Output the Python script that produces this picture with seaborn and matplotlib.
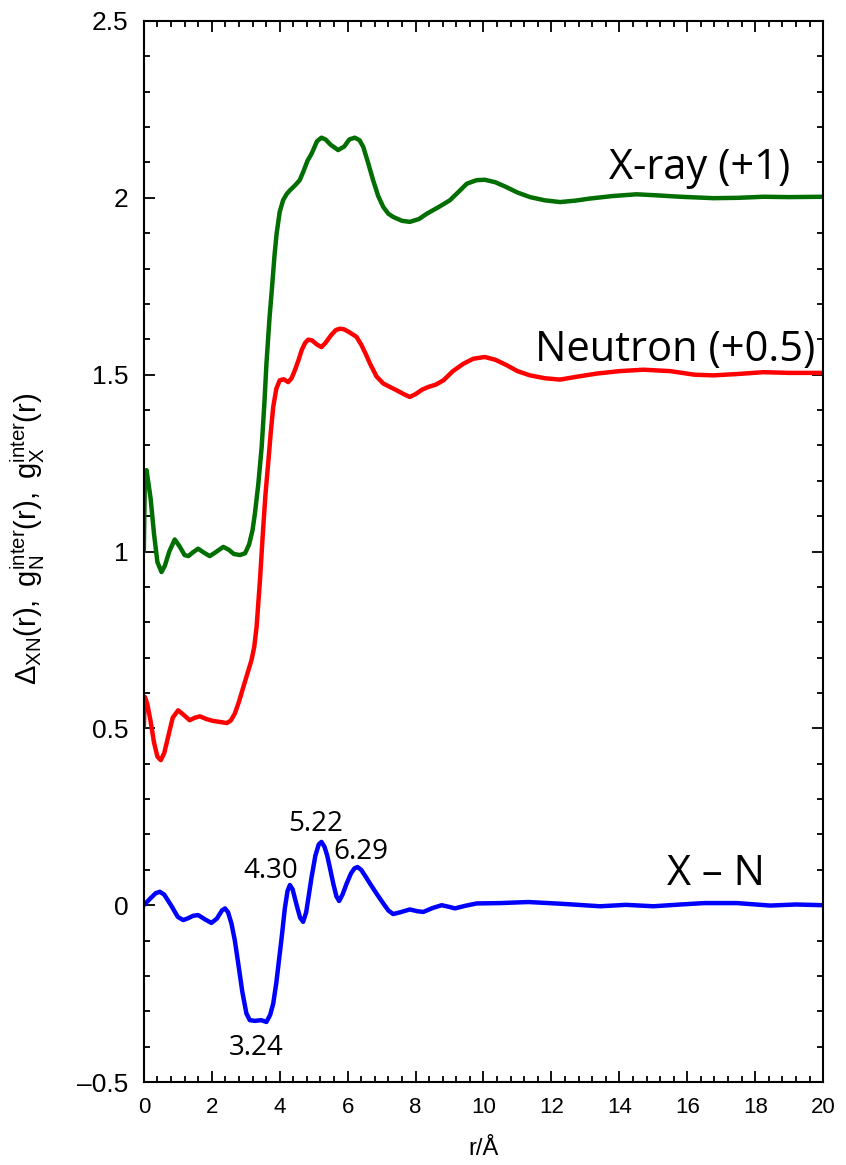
import numpy as np
import pandas as pd
import matplotlib
matplotlib.use("Agg")
import matplotlib.pyplot as plt
from matplotlib.ticker import MultipleLocator, FuncFormatter
import seaborn as sns

# ---- data ----
r_xray = [0, 0.03, 0.08, 0.2, 0.3, 0.4, 0.52, 0.62, 0.75, 0.91, 1.05, 1.2, 1.31, 1.45, 1.6, 1.75,
          1.94, 2.1, 2.34, 2.5, 2.65, 2.83, 2.98, 3.1, 3.2, 3.27, 3.37, 3.47, 3.55, 3.61, 3.7, 3.76,
          3.85, 3.91, 4.0, 4.1, 4.2, 4.3, 4.45, 4.59, 4.7, 4.82, 4.94, 5.1, 5.23, 5.35, 5.5, 5.72,
          5.9, 6.05, 6.21, 6.35, 6.46, 6.6, 6.75, 6.9, 7.05, 7.2, 7.34, 7.6, 7.83, 8.1, 8.33, 8.7,
          9.01, 9.3, 9.51, 9.8, 10.04, 10.35, 10.68, 11.0, 11.37, 11.8, 12.25, 12.7, 13.14, 13.8,
          14.51, 15.1, 15.79, 16.77, 17.5, 18.24, 19.0, 20]
g_xray = [1.0, 1.2, 1.23, 1.15, 1.05, 0.97, 0.942, 0.96, 1.0, 1.034, 1.015, 0.99, 0.987, 0.998,
          1.008, 0.998, 0.987, 0.997, 1.013, 1.005, 0.993, 0.99, 0.995, 1.02, 1.06, 1.107, 1.19,
          1.296, 1.42, 1.531, 1.66, 1.729, 1.84, 1.899, 1.96, 1.993, 2.01, 2.021, 2.035, 2.05,
          2.075, 2.105, 2.125, 2.16, 2.17, 2.165, 2.15, 2.135, 2.145, 2.165, 2.17, 2.163, 2.144,
          2.1, 2.05, 2.005, 1.974, 1.955, 1.946, 1.935, 1.932, 1.94, 1.955, 1.975, 1.993, 2.02,
          2.04, 2.05, 2.051, 2.044, 2.03, 2.015, 2.002, 1.993, 1.988, 1.992, 1.998, 2.005, 2.01,
          2.007, 2.003, 1.999, 2.0, 2.003, 2.002, 2.003]

r_neutron = [0, 0.03, 0.1, 0.2, 0.3, 0.4, 0.5, 0.6, 0.7, 0.85, 1.01, 1.15, 1.35, 1.5, 1.65, 1.85,
             2.04, 2.25, 2.44, 2.56, 2.68, 2.8, 2.93, 3.05, 3.17, 3.25, 3.32, 3.42, 3.51, 3.58,
             3.66, 3.74, 3.81, 3.9, 4.0, 4.12, 4.25, 4.35, 4.45, 4.55, 4.65, 4.75, 4.84, 4.95,
             5.1, 5.23, 5.35, 5.5, 5.65, 5.77, 5.9, 6.05, 6.26, 6.4, 6.55, 6.66, 6.85, 7.05, 7.25,
             7.44, 7.65, 7.83, 8.0, 8.2, 8.37, 8.6, 8.82, 9.1, 9.41, 9.7, 10.04, 10.35, 10.68,
             11.0, 11.37, 11.8, 12.25, 12.8, 13.33, 14.0, 14.71, 15.5, 16.2, 16.77, 17.5, 18.24,
             19.0, 20]
g_neutron = [0.504, 0.589, 0.57, 0.52, 0.46, 0.42, 0.41, 0.43, 0.47, 0.53, 0.551, 0.54, 0.523,
             0.53, 0.534, 0.526, 0.521, 0.518, 0.515, 0.522, 0.542, 0.575, 0.617, 0.655, 0.693,
             0.73, 0.787, 0.92, 1.06, 1.16, 1.248, 1.34, 1.409, 1.46, 1.484, 1.487, 1.479, 1.49,
             1.513, 1.54, 1.57, 1.59, 1.599, 1.597, 1.585, 1.578, 1.59, 1.61, 1.626, 1.63, 1.628,
             1.62, 1.607, 1.585, 1.555, 1.531, 1.495, 1.475, 1.465, 1.456, 1.445, 1.437, 1.445,
             1.458, 1.465, 1.472, 1.484, 1.51, 1.531, 1.545, 1.55, 1.542, 1.527, 1.51, 1.498,
             1.49, 1.486, 1.495, 1.503, 1.51, 1.514, 1.51, 1.5, 1.498, 1.502, 1.507, 1.505, 1.505]

r_diff = [0, 0.2, 0.35, 0.47, 0.6, 0.8, 1.0, 1.16, 1.3, 1.45, 1.6, 1.8, 1.99, 2.15, 2.3, 2.39,
          2.48, 2.58, 2.68, 2.78, 2.9, 3.02, 3.12, 3.27, 3.45, 3.61, 3.72, 3.81, 3.9, 4.06, 4.15,
          4.23, 4.30, 4.38, 4.5, 4.6, 4.69, 4.78, 4.86, 4.94, 5.05, 5.15, 5.23, 5.32, 5.4, 5.48,
          5.58, 5.67, 5.75, 5.85, 5.97, 6.1, 6.2, 6.29, 6.4, 6.55, 6.66, 6.85, 7.05, 7.2, 7.34,
          7.55, 7.83, 8.05, 8.23, 8.5, 8.77, 9.0, 9.16, 9.45, 9.8, 10.5, 11.32, 12.3, 13.43,
          14.2, 15.0, 15.8, 16.5, 17.46, 18.44, 19.2, 20]
d_diff = [0, 0.02, 0.034, 0.038, 0.03, 0.0, -0.033, -0.042, -0.037, -0.03, -0.028, -0.04, -0.05,
          -0.038, -0.015, -0.009, -0.02, -0.052, -0.1, -0.165, -0.245, -0.306, -0.325, -0.327,
          -0.325, -0.33, -0.31, -0.278, -0.22, -0.09, -0.01, 0.04, 0.057, 0.045, 0.0, -0.035,
          -0.047, -0.02, 0.03, 0.08, 0.14, 0.172, 0.179, 0.165, 0.14, 0.105, 0.06, 0.025, 0.012,
          0.03, 0.061, 0.09, 0.104, 0.108, 0.1, 0.078, 0.061, 0.033, 0.005, -0.015, -0.025, -0.02,
          -0.012, -0.017, -0.019, -0.008, 0.0, -0.005, -0.009, -0.002, 0.005, 0.006, 0.009, 0.004,
          -0.003, 0.001, -0.003, 0.002, 0.006, 0.006, -0.001, 0.002, 0.0]

curve_labels = ["X-ray (+1)", "Neutron (+0.5)", "X \u2013 N"]
peak_labels = ["4.30", "5.22", "6.29", "3.24"]

# ---- style ----
sns.set_theme(style="ticks")
plt.rcParams["font.family"] = ["Liberation Sans", "DejaVu Sans"]
plt.rcParams["mathtext.fontset"] = "custom"
plt.rcParams["mathtext.rm"] = "Liberation Sans"
plt.rcParams["mathtext.it"] = "Liberation Sans:italic"
plt.rcParams["mathtext.default"] = "regular"
for k in ["text.color", "axes.labelcolor", "xtick.color", "ytick.color", "axes.edgecolor"]:
    plt.rcParams[k] = "black"

fig = plt.figure(figsize=(8.46, 11.65), dpi=100)
ax = fig.add_axes([0.170, 0.0712, 0.803, 0.9108])

lw = 3.2
sns.lineplot(x=r_xray, y=g_xray, ax=ax, color="#006e00", lw=lw, sort=False, estimator=None)
sns.lineplot(x=r_neutron, y=g_neutron, ax=ax, color="#ff0000", lw=lw, sort=False, estimator=None)
sns.lineplot(x=r_diff, y=d_diff, ax=ax, color="#0000ff", lw=lw, sort=False, estimator=None)
for ln in ax.get_lines():
    ln.set_solid_joinstyle("round")
    ln.set_solid_capstyle("round")

ax.set_xlim(0, 20)
ax.set_ylim(-0.5, 2.5)
ax.xaxis.set_major_locator(MultipleLocator(2))
ax.xaxis.set_minor_locator(MultipleLocator(0.4))
ax.yaxis.set_major_locator(MultipleLocator(0.5))
ax.yaxis.set_minor_locator(MultipleLocator(0.1))
ax.yaxis.set_major_formatter(FuncFormatter(lambda v, _: f"{v:g}".replace("-", "\u2013")))
ax.xaxis.set_major_formatter(FuncFormatter(lambda v, _: f"{v:g}"))
ax.tick_params(which="both", direction="in", top=True, right=True, colors="black", width=1.3)
ax.tick_params(which="major", length=8, pad=11)
ax.tick_params(which="minor", length=4)
ax.tick_params(axis="y", labelsize=19)
ax.tick_params(axis="x", labelsize=16)
for s in ax.spines.values():
    s.set_linewidth(1.5)
    s.set_color("black")

ax.set_xlabel("r/\u00c5", fontsize=17, labelpad=14)
ax.set_ylabel(r"$\Delta_{XN}(r),\ g_N^{inter}(r),\ g_X^{inter}(r)$", fontsize=21)
ax.yaxis.set_label_coords(-0.142, 0.512)

lab_font = ["Open Sans", "DejaVu Sans"]
ax.text(16.35, 2.084, curve_labels[0], fontsize=30, family=lab_font, ha="center", va="center")
ax.text(15.64, 1.569, curve_labels[1], fontsize=30, family=lab_font, ha="center", va="center")
ax.text(16.85, 0.088, curve_labels[2], fontsize=30, family=lab_font, ha="center", va="center")

ax.text(3.74, 0.096, peak_labels[0], fontsize=20, family=lab_font, ha="center", va="center")
ax.text(5.07, 0.229, peak_labels[1], fontsize=20, family=lab_font, ha="center", va="center")
ax.text(6.39, 0.150, peak_labels[2], fontsize=20, family=lab_font, ha="center", va="center")
ax.text(3.30, -0.404, peak_labels[3], fontsize=20, family=lab_font, ha="center", va="center")

fig.savefig("out.png", dpi=100)
